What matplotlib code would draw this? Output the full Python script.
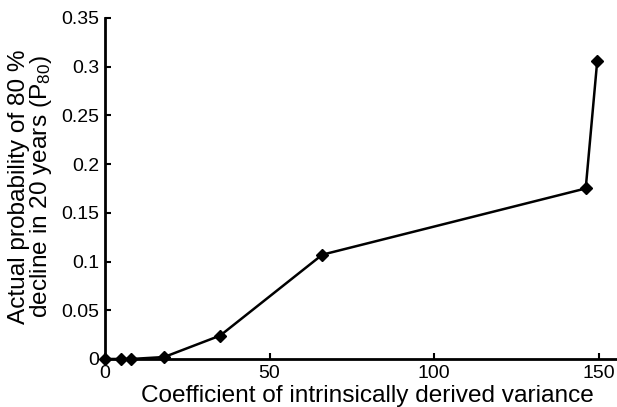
import matplotlib
matplotlib.use("Agg")
import matplotlib.pyplot as plt

x_values = [0, 5, 8, 18, 35, 66, 146, 149.5]
p80_values = [0.0, 0.0, 0.0, 0.002, 0.024, 0.107, 0.175, 0.306]
x_ticks = [0, 50, 100, 150]
y_ticks = [0, 0.05, 0.1, 0.15, 0.2, 0.25, 0.3, 0.35]
y_tick_labels = ["0", "0.05", "0.1", "0.15", "0.2", "0.25", "0.3", "0.35"]

plt.rcParams['font.family'] = ['Liberation Sans', 'DejaVu Sans']
plt.rcParams['mathtext.fontset'] = 'custom'
plt.rcParams['mathtext.rm'] = 'Liberation Sans'
plt.rcParams['mathtext.it'] = 'Liberation Sans:italic'

fig = plt.figure(figsize=(6.17, 4.07), dpi=100)
ax = fig.add_axes([0.170, 0.118, 0.830, 0.838])
ax.plot(x_values, p80_values, color='black', linewidth=1.8, marker='D',
        markersize=6, markerfacecolor='black', markeredgecolor='black', clip_on=False)
ax.set_xlim(0, 155.5)
ax.set_ylim(0, 0.35)
ax.set_xticks(x_ticks)
ax.set_xticklabels([str(t) for t in x_ticks])
ax.set_yticks(y_ticks)
ax.set_yticklabels(y_tick_labels)
ax.tick_params(direction='in', length=4, width=1.5, labelsize=14)
ax.tick_params(axis='x', pad=4.5)
ax.tick_params(axis='y', pad=4)
for s in ['top', 'right']:
    ax.spines[s].set_visible(False)
for s in ['left', 'bottom']:
    ax.spines[s].set_linewidth(2)
ax.set_xlabel('Coefficient of intrinsically derived variance', fontsize=17.6)
ax.xaxis.set_label_coords(0.512, -0.075)
ax.set_ylabel('Actual probability of 80 %\ndecline in 20 years (P$_{\\mathrm{80}}$)', fontsize=17.6,
              linespacing=0.9)
ax.yaxis.set_label_coords(-0.100, 0.505)
fig.savefig('out.png', dpi=100)
